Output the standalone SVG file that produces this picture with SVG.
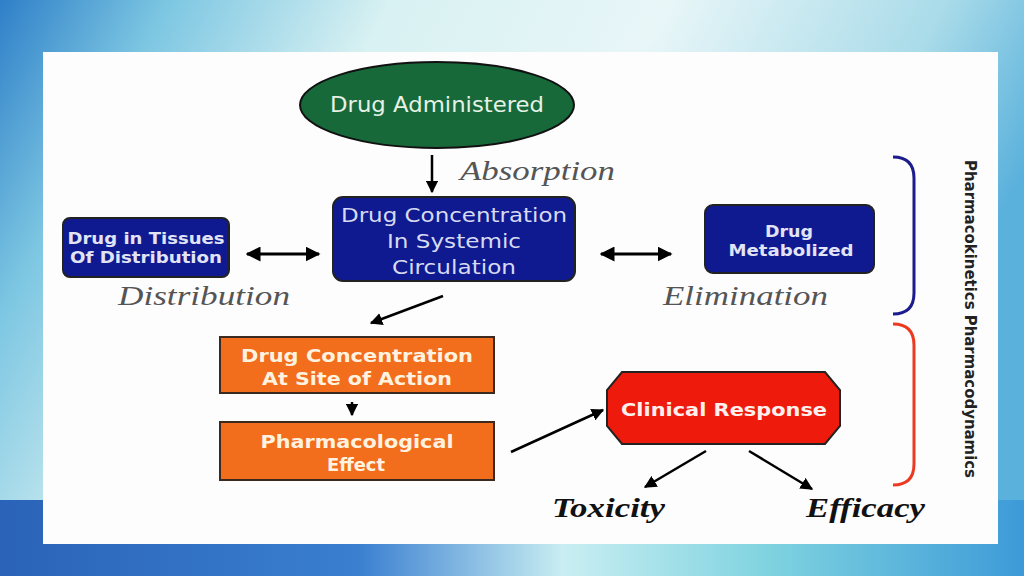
<svg xmlns="http://www.w3.org/2000/svg" width="1024" height="576" viewBox="0 0 1024 576">
<defs>
<linearGradient id="bg" x1="0" y1="0" x2="1" y2="0.3">
<stop offset="0" stop-color="#2f7fc8"/>
<stop offset="0.15" stop-color="#7cc6e2"/>
<stop offset="0.35" stop-color="#d8f1f2"/>
<stop offset="0.6" stop-color="#e8f6f8"/>
<stop offset="0.85" stop-color="#a9dbe9"/>
<stop offset="1" stop-color="#5ab1dc"/>
</linearGradient>
<linearGradient id="bot" x1="0" y1="0" x2="1" y2="0">
<stop offset="0" stop-color="#2a63b8"/>
<stop offset="0.35" stop-color="#3a7fd0"/>
<stop offset="0.55" stop-color="#c9eef2"/>
<stop offset="0.75" stop-color="#7fd3e0"/>
<stop offset="1" stop-color="#3d9ad8"/>
</linearGradient>
<marker id="ah" viewBox="0 0 10 10" refX="9" refY="5" markerWidth="5" markerHeight="5" orient="auto-start-reverse" markerUnits="strokeWidth">
<path d="M0,0 L10,5 L0,10 z" fill="#000"/>
</marker>
<style>
.lbl{font-family:"Liberation Serif",serif;font-style:italic;font-size:27px;fill:#555;}
.lbl2{font-family:"Liberation Serif",serif;font-style:italic;font-weight:bold;font-size:28px;fill:#111;}
.bt{font-family:"DejaVu Sans",sans-serif;font-weight:bold;text-anchor:middle;}
.ct{font-family:"DejaVu Sans",sans-serif;text-anchor:middle;}
.blue{fill:#0f1a90;stroke:#222;stroke-width:2;}
.orange{fill:#f26d1c;stroke:#3a2a20;stroke-width:2;}
.con{stroke:#000;stroke-width:2.5;fill:none;marker-end:url(#ah);}
.dbl{stroke:#000;stroke-width:3;fill:none;marker-end:url(#ah);marker-start:url(#ah);}
</style>
</defs>
<rect width="1024" height="576" fill="url(#bg)"/>
<rect y="500" width="1024" height="76" fill="url(#bot)"/>
<rect x="43" y="52" width="955" height="492" fill="#fdfdfd"/>

<g id="drug-administered">
<ellipse cx="437" cy="105" rx="137" ry="43" fill="#17693a" stroke="#111" stroke-width="2"/>
<text class="ct" x="437" y="112" font-size="21" fill="#e6f2e6" textLength="214" lengthAdjust="spacingAndGlyphs">Drug Administered</text>
</g>
<g id="absorption"><text class="lbl" x="460" y="180" textLength="155" lengthAdjust="spacingAndGlyphs">Absorption</text></g>

<g id="systemic">
<rect class="blue" x="333" y="197" width="242" height="84" rx="10"/>
<text class="ct" font-size="20" fill="#d8daf2"><tspan x="454" y="222" textLength="226" lengthAdjust="spacingAndGlyphs">Drug Concentration</tspan><tspan x="454" y="248" textLength="134" lengthAdjust="spacingAndGlyphs">In Systemic</tspan><tspan x="454" y="274" textLength="124" lengthAdjust="spacingAndGlyphs">Circulation</tspan></text>
</g>

<g id="tissues">
<rect class="blue" x="63" y="218" width="166" height="59" rx="7"/>
<text class="bt" font-size="15" fill="#e2e4f6"><tspan x="146" y="244" textLength="157" lengthAdjust="spacingAndGlyphs">Drug in Tissues</tspan><tspan x="146" y="263" textLength="152" lengthAdjust="spacingAndGlyphs">Of Distribution</tspan></text>
</g>
<g id="distribution"><text class="lbl" x="118" y="305" textLength="172" lengthAdjust="spacingAndGlyphs">Distribution</text></g>

<g id="metabolized">
<rect class="blue" x="705" y="205" width="169" height="68" rx="8"/>
<text class="bt" font-size="15" fill="#e2e4f6"><tspan x="789" y="237" textLength="48" lengthAdjust="spacingAndGlyphs">Drug</tspan><tspan x="791" y="256" textLength="125" lengthAdjust="spacingAndGlyphs">Metabolized</tspan></text>
</g>
<g id="elimination"><text class="lbl" x="663" y="305" textLength="165" lengthAdjust="spacingAndGlyphs">Elimination</text></g>

<g id="site-of-action">
<rect class="orange" x="220" y="337" width="274" height="56"/>
<text class="bt" font-size="17" fill="#fff3e0"><tspan x="357" y="362" textLength="232" lengthAdjust="spacingAndGlyphs">Drug Concentration</tspan><tspan x="357" y="385" textLength="190" lengthAdjust="spacingAndGlyphs">At Site of Action</tspan></text>
</g>

<g id="pharm-effect">
<rect class="orange" x="220" y="422" width="274" height="58"/>
<text class="bt" font-size="17" fill="#fff3e0"><tspan x="357" y="448" textLength="193" lengthAdjust="spacingAndGlyphs">Pharmacological</tspan><tspan x="356" y="471" textLength="58" lengthAdjust="spacingAndGlyphs">Effect</tspan></text>
</g>

<g id="clinical-response">
<polygon points="622,372 825,372 840,390 840,426 825,444 622,444 607,426 607,390" fill="#ee1b0c" stroke="#222" stroke-width="2"/>
<text class="bt" x="724" y="416" font-size="17" fill="#fff0ee" textLength="206" lengthAdjust="spacingAndGlyphs">Clinical Response</text>
</g>

<g id="toxicity"><text class="lbl2" x="552" y="517" textLength="113" lengthAdjust="spacingAndGlyphs">Toxicity</text></g>
<g id="efficacy"><text class="lbl2" x="806" y="517" textLength="119" lengthAdjust="spacingAndGlyphs">Efficacy</text></g>

<g id="brackets">
<path d="M893,157 Q914,157 914,178 L914,293 Q914,314 893,314" fill="none" stroke="#1c1c8c" stroke-width="3"/>
<path d="M893,324 Q914,324 914,345 L914,464 Q914,485 893,485" fill="none" stroke="#ec3a22" stroke-width="3"/>
<text class="bt" transform="translate(965,319) rotate(90)" font-size="15.5" fill="#222" textLength="318" lengthAdjust="spacingAndGlyphs">Pharmacokinetics  Pharmacodynamics</text>
</g>

<g id="connectors">
<line class="con" x1="432" y1="155" x2="432" y2="192"/>
<line class="dbl" x1="247" y1="254" x2="319" y2="254"/>
<line class="dbl" x1="601" y1="254" x2="671" y2="254"/>
<line class="con" x1="443" y1="296" x2="371" y2="323"/>
<line class="con" x1="352" y1="402" x2="352" y2="415" stroke-width="2"/>
<line class="con" x1="511" y1="452" x2="603" y2="410"/>
<line class="con" x1="706" y1="451" x2="645" y2="487"/>
<line class="con" x1="749" y1="451" x2="812" y2="489"/>
</g>
</svg>
